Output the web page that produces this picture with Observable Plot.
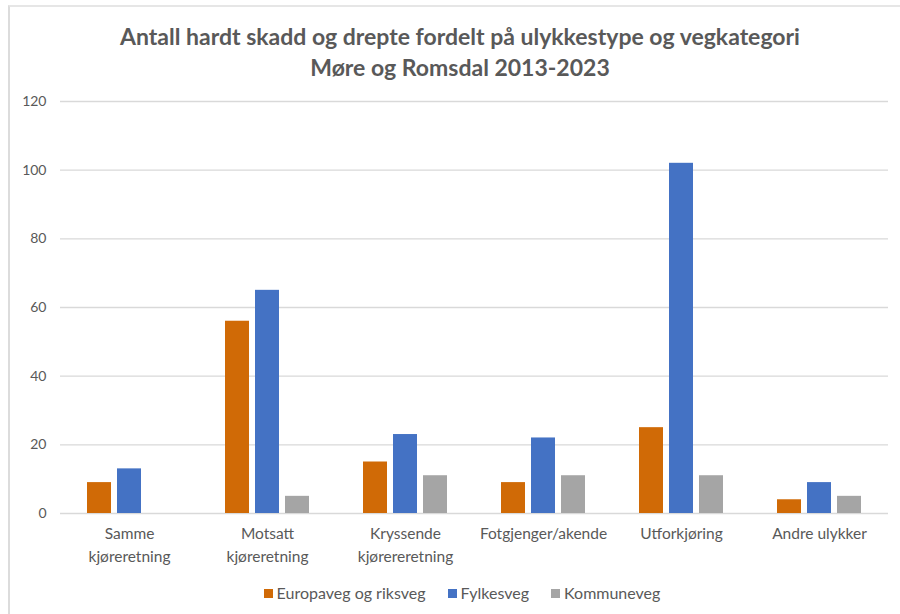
<!DOCTYPE html>
<html>
<head>
<meta charset="utf-8">
<script src="https://cdn.jsdelivr.net/npm/d3@7"></script>
<script src="https://cdn.jsdelivr.net/npm/@observablehq/plot@0.6"></script>
<style>
  html, body { margin: 0; padding: 0; background: #fff; }
  #frame {
    position: absolute; left: 8px; top: 5px; width: 900px; height: 620px;
    border-left: 2px solid #dcdcdc; border-top: 2px solid #e6e6e6;
    box-sizing: border-box;
  }
  #wrap { position: absolute; left: 0; top: 0; width: 900px; height: 614px; font-family: Lato, "Open Sans", sans-serif; color: #595959; }
  #title { position: absolute; top: 21px; left: 0; width: 920px; text-align: center; font-size: 23px; font-weight: bold; line-height: 31px; color: #595959; }
  #chart { position: absolute; top: 88px; left: 0; }
  #legend { position: absolute; top: 583px; left: 0; width: 924px; text-align: center; font-size: 16px; color: #595959; white-space: nowrap; }
  #legend span.item { display: inline-block; margin: 0 11px; }
  #legend span.sw { display: inline-block; width: 9px; height: 9px; margin-right: 4px; vertical-align: 1px; }
</style>
</head>
<body>
<div id="frame"></div>
<div id="wrap">
  <div id="title">Antall hardt skadd og drepte fordelt på ulykkestype og vegkategori<br>Møre og Romsdal 2013-2023</div>
  <div id="chart"></div>
  <div id="legend"></div>
</div>
<script>
const categories = ["Samme kjøreretning", "Motsatt kjøreretning", "Kryssende kjørereretning", "Fotgjenger/akende", "Utforkjøring", "Andre ulykker"];
const categoryLabels = ["Samme\nkjøreretning", "Motsatt\nkjøreretning", "Kryssende\nkjørereretning", "Fotgjenger/akende", "Utforkjøring", "Andre ulykker"];
const series = ["Europaveg og riksveg", "Fylkesveg", "Kommuneveg"];
const colors = ["#D06A06", "#4472C4", "#A5A5A5"];
const europaveg = [9, 56, 15, 9, 25, 4];
const fylkesveg = [13, 65, 23, 22, 102, 9];
const kommuneveg = [0, 5, 11, 11, 11, 5];
const yTicks = [0, 20, 40, 60, 80, 100, 120];

const values = [europaveg, fylkesveg, kommuneveg];
const data = [];
categories.forEach((c, i) => series.forEach((s, j) => data.push({category: c, series: s, value: values[j][i]})));
const labelOf = new Map(categories.map((c, i) => [c, categoryLabels[i]]));

const chart = Plot.plot({
  width: 900,
  height: 480,
  marginLeft: 58,
  marginRight: 11,
  marginTop: 13,
  marginBottom: 55,
  style: {fontFamily: "Lato, 'Open Sans', sans-serif", color: "#595959", background: "transparent"},
  fx: {domain: categories, padding: 0, label: null},
  x: {domain: series, paddingInner: 0.19, paddingOuter: 0.83, axis: null},
  y: {domain: [0, 120], label: null},
  color: {domain: series, range: colors},
  marks: [
    Plot.ruleY(yTicks, {stroke: "#d9d9d9", strokeWidth: 1.3}),
    Plot.barY(data, {fx: "category", x: "series", y: "value", fill: "series"}),
    Plot.axisY(yTicks, {tickSize: 0, tickPadding: 14, fontSize: 14, label: null, fill: "#595959"}),
    Plot.axisFx({anchor: "bottom", tickSize: 0, tickPadding: 10, fontSize: 15.5, lineHeight: 1.45, label: null, tickFormat: d => labelOf.get(d), fill: "#595959"})
  ]
});
document.getElementById("chart").appendChild(chart);

const legend = document.getElementById("legend");
series.forEach((s, i) => {
  const item = document.createElement("span");
  item.className = "item";
  const sw = document.createElement("span");
  sw.className = "sw";
  sw.style.background = colors[i];
  item.appendChild(sw);
  item.appendChild(document.createTextNode(s));
  legend.appendChild(item);
});
</script>
</body>
</html>
